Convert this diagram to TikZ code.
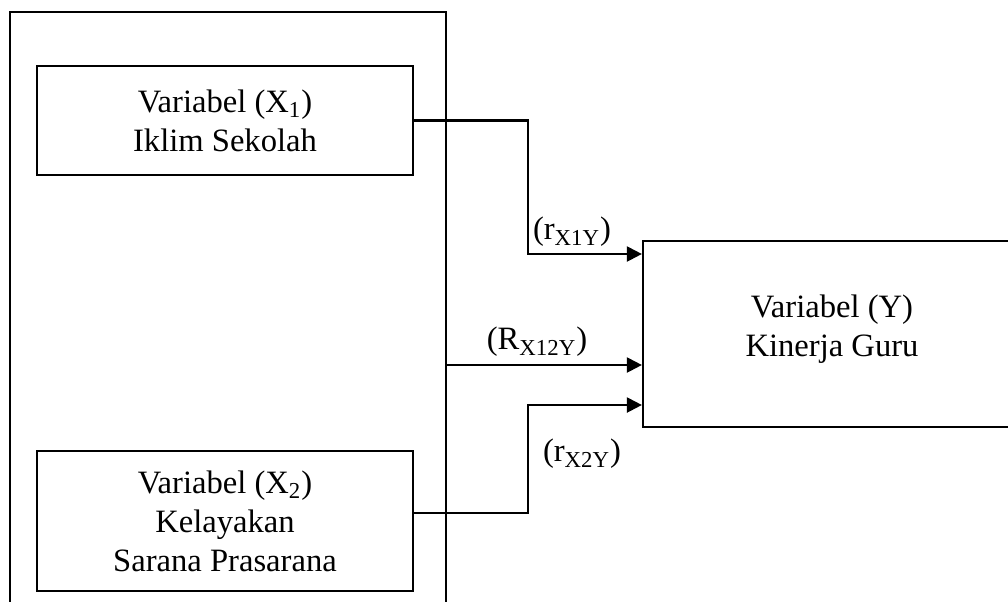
\documentclass[tikz,border=0pt]{standalone}
\usepackage{fontspec}
\setmainfont{Liberation Serif}
\usetikzlibrary{arrows.meta}
\begin{document}
\begin{tikzpicture}[x=0.5pt,y=-0.5pt,
  box/.style={draw,line width=1.1pt,align=center,inner sep=0pt,font=\fontsize{16.3}{19.5}\selectfont},
  lbl/.style={inner sep=0pt,font=\fontsize{16.3}{19.5}\selectfont},
  arr/.style={line width=1.1pt,-{Triangle[length=7.5pt,width=7.5pt]}}]
\useasboundingbox (0,0) rectangle (1008,601);
\clip (0,0) rectangle (1008,601);
\node[box,minimum width=218pt,minimum height=314pt] (outer) at (228,326) {};
\node[box,minimum width=188pt,minimum height=54.5pt] (X1) at (225,120.5) {Variabel (X\textsubscript{1})\\Iklim Sekolah};
\node[box,minimum width=188pt,minimum height=70pt] (X2) at (225,521) {Variabel (X\textsubscript{2})\\Kelayakan\\Sarana Prasarana};
\node[box,minimum width=189pt,minimum height=93pt] (Y) at (832,334) {};
\node[inner sep=0pt,align=center,font=\fontsize{16.3}{19.5}\selectfont] (Yt) at (832,329) {Variabel (Y)\\Kinerja Guru};
\coordinate (j1) at (528,254);
\coordinate (m) at (446,365);
\coordinate (j2) at (528,405);
\draw[arr] (X1.east) -| (j1) -- (j1 -| Y.west);
\draw[arr] (m) -- (m -| Y.west);
\draw[arr] ([yshift=4pt]X2.east) -| (j2) -- (j2 -| Y.west);
\node[lbl] (l1) at (572,232) {(r\textsubscript{X1Y})};
\node[lbl] (l2) at (537,342) {(R\textsubscript{X12Y})};
\node[lbl] (l3) at (582,454) {(r\textsubscript{X2Y})};
\end{tikzpicture}
\end{document}
